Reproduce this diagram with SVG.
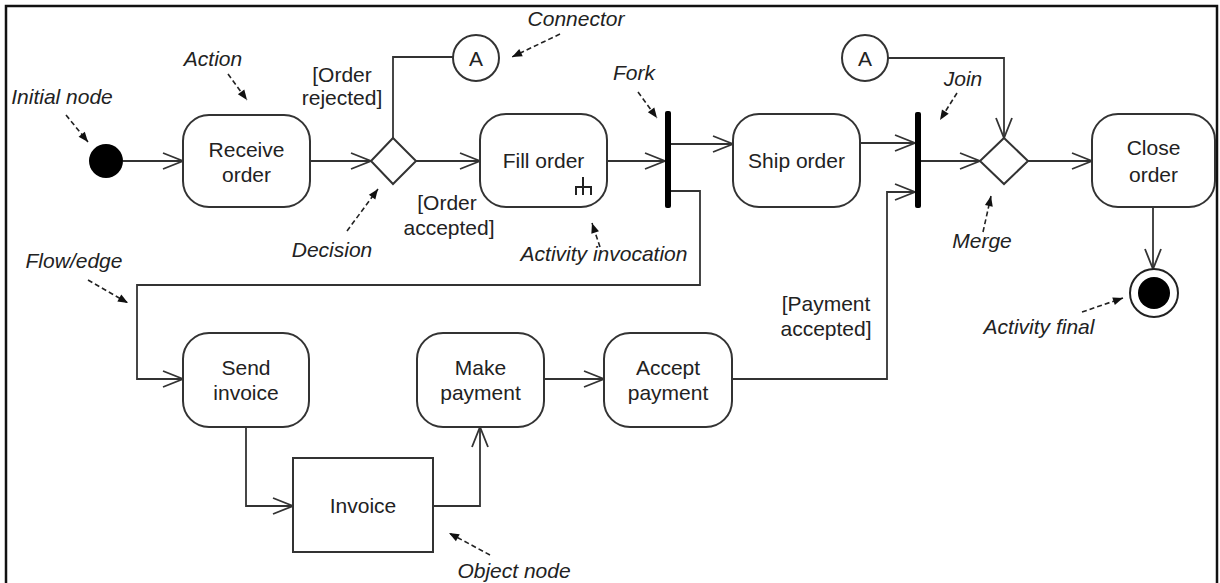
<svg xmlns="http://www.w3.org/2000/svg" width="1220" height="583" viewBox="0 0 1220 583">
<style>
.node{fill:#fff;stroke:#333;stroke-width:2}
.t{font-family:"Liberation Sans",Arial,sans-serif;font-size:21px;fill:#222;text-anchor:middle}
.i{font-family:"Liberation Sans",Arial,sans-serif;font-size:21px;fill:#222;font-style:italic;text-anchor:middle}
.flow{fill:none;stroke:#333;stroke-width:1.8;marker-end:url(#open)}
.plain{fill:none;stroke:#333;stroke-width:1.8}
.ann{fill:none;stroke:#222;stroke-width:1.6;stroke-dasharray:5,3;marker-end:url(#solid)}
.bar{fill:#000}
</style>
<defs>
<marker id="open" markerUnits="userSpaceOnUse" markerWidth="24" markerHeight="18" refX="20" refY="8" orient="auto" overflow="visible">
<path d="M0,0 L20,8 L0,16" fill="none" stroke="#333" stroke-width="1.8"/>
</marker>
<marker id="solid" markerUnits="userSpaceOnUse" markerWidth="12" markerHeight="10" refX="10" refY="4" orient="auto" overflow="visible">
<path d="M0,0 L10,4 L0,8 Z" fill="#111"/>
</marker>
</defs>
<rect x="0" y="0" width="1220" height="583" fill="#fff"/>
<rect id="frame" x="6" y="6" width="1211" height="585" fill="none" stroke="#111" stroke-width="2.5"/>

<g id="connectors">
<path class="flow" d="M123,161 H183"/>
<path class="flow" d="M310,161 H371"/>
<path class="flow" d="M416,161 H480"/>
<path class="plain" d="M393,138 V57 H453"/>
<path class="flow" d="M607,161 H665"/>
<path class="flow" d="M671,144 H733"/>
<path class="flow" d="M671,191 H700 V285 H137 V379 H183"/>
<path class="flow" d="M860,143 H915"/>
<path class="flow" d="M732,379 H887 V192 H915"/>
<path class="flow" d="M921,161 H980"/>
<path class="flow" d="M888,58 H1004 V138"/>
<path class="flow" d="M1028,161 H1092"/>
<path class="flow" d="M1153,207 V269"/>
<path class="flow" d="M246,427 V506 H293"/>
<path class="flow" d="M433,506 H480 V427"/>
<path class="flow" d="M544,379 H604"/>
</g>

<g id="labels">
<text class="t" x="342" y="82">[Order</text>
<text class="t" x="342" y="105">rejected]</text>
<text class="t" x="447" y="210">[Order</text>
<text class="t" x="449" y="235">accepted]</text>
<text class="t" x="826" y="311">[Payment</text>
<text class="t" x="826" y="336">accepted]</text>
</g>

<g id="annotations">
<text class="i" x="62" y="104">Initial node</text>
<path class="ann" d="M66,115 L88,142"/>
<text class="i" x="213" y="66">Action</text>
<path class="ann" d="M228,74 L247,100"/>
<text class="i" x="576" y="26">Connector</text>
<path class="ann" d="M560,34 L512,57"/>
<text class="i" x="634" y="80">Fork</text>
<path class="ann" d="M638,92 L657,118"/>
<text class="i" x="332" y="257">Decision</text>
<path class="ann" d="M347,231 L378,189"/>
<text class="i" x="604" y="261">Activity invocation</text>
<path class="ann" d="M600,247 L592,223"/>
<text class="i" x="74" y="268">Flow/edge</text>
<path class="ann" d="M88,280 L128,303"/>
<text class="i" x="963" y="86">Join</text>
<path class="ann" d="M957,93 L940,120"/>
<text class="i" x="982" y="248">Merge</text>
<path class="ann" d="M983,232 L991,196"/>
<text class="i" x="1039" y="334">Activity final</text>
<path class="ann" d="M1082,312 L1123,298"/>
<text class="i" x="514" y="578">Object node</text>
<path class="ann" d="M490,555 L449,533"/>
</g>

<g id="initial"><circle cx="106" cy="161" r="17" fill="#000"/></g>
<g id="receive-order">
<rect class="node" x="183" y="115" width="127" height="92" rx="26"/>
<text class="t" x="246.5" y="157">Receive</text>
<text class="t" x="246.5" y="182">order</text>
</g>
<g id="decision"><path class="node" d="M393,138 L416,161 L393,184 L371,161 Z"/></g>
<g id="connector-a1">
<circle class="node" cx="476" cy="58" r="23"/>
<text class="t" x="476" y="66">A</text>
</g>
<g id="fill-order">
<rect class="node" x="480" y="114" width="127" height="93" rx="26"/>
<text class="t" x="543.5" y="168">Fill order</text>
<path d="M583,177 V195 M576,195 V187 H591 V195" fill="none" stroke="#222" stroke-width="2"/>
</g>
<g id="fork"><rect class="bar" x="665" y="111" width="6" height="97" rx="2"/></g>
<g id="ship-order">
<rect class="node" x="733" y="114" width="127" height="93" rx="26"/>
<text class="t" x="796.5" y="168">Ship order</text>
</g>
<g id="join"><rect class="bar" x="915" y="112" width="6" height="96" rx="2"/></g>
<g id="connector-a2">
<circle class="node" cx="865" cy="58" r="23"/>
<text class="t" x="865" y="66">A</text>
</g>
<g id="merge"><path class="node" d="M1004,138 L1028,161 L1004,184 L980,161 Z"/></g>
<g id="close-order">
<rect class="node" x="1092" y="114" width="123" height="93" rx="26"/>
<text class="t" x="1153.5" y="155">Close</text>
<text class="t" x="1153.5" y="182">order</text>
</g>
<g id="activity-final">
<circle cx="1154" cy="293" r="24" fill="#fff" stroke="#222" stroke-width="2"/>
<circle cx="1154" cy="293" r="16" fill="#000"/>
</g>
<g id="send-invoice">
<rect class="node" x="183" y="333" width="126" height="94" rx="26"/>
<text class="t" x="246" y="375">Send</text>
<text class="t" x="246" y="400">invoice</text>
</g>
<g id="invoice">
<rect class="node" x="293" y="458" width="140" height="94"/>
<text class="t" x="363" y="513">Invoice</text>
</g>
<g id="make-payment">
<rect class="node" x="417" y="333" width="127" height="94" rx="26"/>
<text class="t" x="480.5" y="375">Make</text>
<text class="t" x="480.5" y="400">payment</text>
</g>
<g id="accept-payment">
<rect class="node" x="604" y="333" width="128" height="94" rx="26"/>
<text class="t" x="668" y="375">Accept</text>
<text class="t" x="668" y="400">payment</text>
</g>
</svg>
